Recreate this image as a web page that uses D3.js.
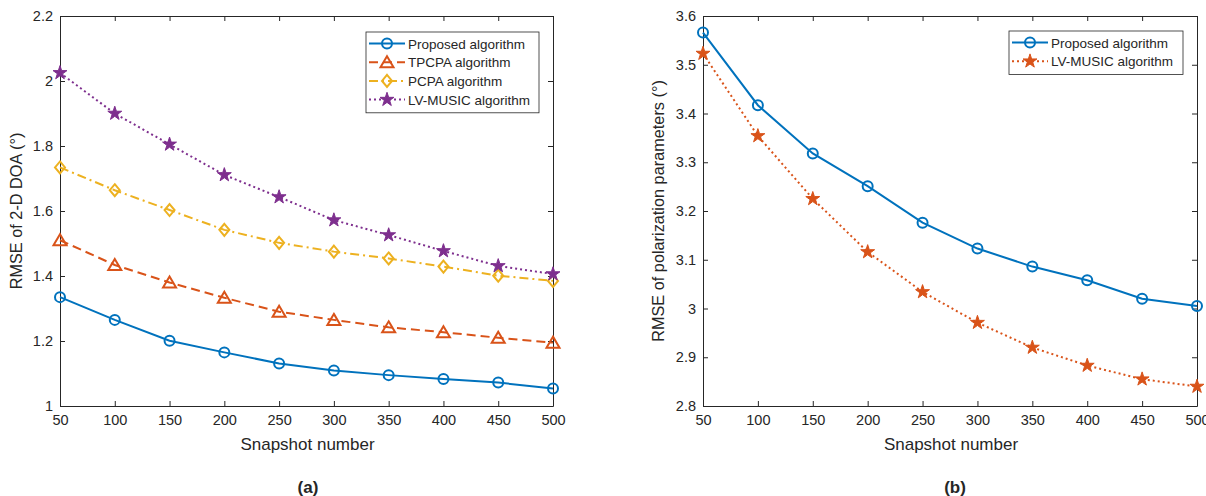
<!DOCTYPE html>
<html>
<head>
<meta charset="utf-8">
<script src="https://cdn.jsdelivr.net/npm/d3@7"></script>
<style>
  body { margin: 0; background: #fff; }
  svg text { font-family: "Liberation Sans", Arial, sans-serif; fill: #262626; }
</style>
</head>
<body>
<script>
// snapshot numbers shared by both panels
const snapshots = [50, 100, 150, 200, 250, 300, 350, 400, 450, 500];

// panel (a): RMSE of 2-D DOA
const doaProposed = [1.335, 1.265, 1.201, 1.165, 1.131, 1.109, 1.095, 1.083, 1.072, 1.054];
const doaTPCPA    = [1.51, 1.434, 1.38, 1.333, 1.29, 1.265, 1.242, 1.227, 1.21, 1.195];
const doaPCPA     = [1.734, 1.664, 1.603, 1.542, 1.502, 1.475, 1.454, 1.429, 1.401, 1.385];
const doaLV       = [2.025, 1.90, 1.805, 1.711, 1.643, 1.572, 1.526, 1.477, 1.431, 1.406];
const doaTicks = [1, 1.2, 1.4, 1.6, 1.8, 2, 2.2];

// panel (b): RMSE of polarization parameters
const polProposed = [3.566, 3.417, 3.318, 3.251, 3.176, 3.123, 3.086, 3.058, 3.020, 3.005];
const polLV       = [3.523, 3.354, 3.225, 3.116, 3.034, 2.971, 2.92, 2.883, 2.855, 2.84];
const polTicks = [2.8, 2.9, 3, 3.1, 3.2, 3.3, 3.4, 3.5, 3.6];

const C = { blue: "#0072BD", orange: "#D95319", yellow: "#EDB120", purple: "#7E2F8E" };

const svg = d3.select("body").append("svg")
  .attr("width", 1206).attr("height", 496);

function marker(g, type, color, x, y) {
  if (type === "circle") {
    g.append("circle").attr("cx", x).attr("cy", y).attr("r", 5)
      .attr("fill", "none").attr("stroke", color).attr("stroke-width", 2);
  } else if (type === "triangle") {
    g.append("path").attr("transform", `translate(${x},${y})`)
      .attr("d", "M0,-6L6.5,5L-6.5,5Z")
      .attr("fill", "none").attr("stroke", color).attr("stroke-width", 2);
  } else if (type === "diamond") {
    g.append("path").attr("transform", `translate(${x},${y})`)
      .attr("d", "M0,-6L5,0L0,6L-5,0Z")
      .attr("fill", "none").attr("stroke", color).attr("stroke-width", 2);
  } else if (type === "star") {
    g.append("path").attr("transform", `translate(${x},${y})`)
      .attr("d", d3.symbol(d3.symbolStar, 60)())
      .attr("fill", color).attr("stroke", color).attr("stroke-width", 1);
  }
}

function panel(opt) {
  const x = d3.scaleLinear().domain([50, 500]).range([opt.left, opt.right]);
  const y = d3.scaleLinear().domain(opt.ydomain).range([406, 16]);
  const g = svg.append("g");

  // axes box with inward ticks
  g.append("g").attr("transform", "translate(0,406)")
    .call(d3.axisBottom(x).tickValues(snapshots).tickSizeInner(-5).tickSizeOuter(0).tickPadding(9))
    .call(a => a.selectAll("text").attr("font-size", 14.5));
  g.append("g").attr("transform", "translate(0,16)")
    .call(d3.axisTop(x).tickValues(snapshots).tickSizeInner(-5).tickSizeOuter(0).tickFormat(""));
  g.append("g").attr("transform", `translate(${opt.left},0)`)
    .call(d3.axisLeft(y).tickValues(opt.yticks).tickSizeInner(-5).tickSizeOuter(0).tickPadding(7)
      .tickFormat(d3.format("~g")))
    .call(a => a.selectAll("text").attr("font-size", 14.5));
  g.append("g").attr("transform", `translate(${opt.right},0)`)
    .call(d3.axisRight(y).tickValues(opt.yticks).tickSizeInner(-5).tickSizeOuter(0).tickFormat(""));
  g.selectAll(".domain, .tick line").attr("stroke", "#262626");

  // series
  opt.series.forEach(s => {
    const line = d3.line().x((d, i) => x(snapshots[i])).y(d => y(d));
    g.append("path").datum(s.values).attr("d", line)
      .attr("fill", "none").attr("stroke", s.color).attr("stroke-width", 2)
      .attr("stroke-dasharray", s.dash);
    s.values.forEach((v, i) => marker(g, s.marker, s.color, x(snapshots[i]), y(v)));
  });

  // labels
  g.append("text").attr("x", (opt.left + opt.right) / 2 + 1).attr("y", 450)
    .attr("text-anchor", "middle").attr("font-size", 17).text("Snapshot number");
  g.append("text").attr("transform", `translate(${opt.ylabelX},211) rotate(-90)`)
    .attr("text-anchor", "middle").attr("font-size", 16.3).text(opt.ylabel);
  g.append("text").attr("x", opt.tagX).attr("y", 493).attr("text-anchor", "middle")
    .attr("font-size", 17).attr("font-weight", "bold").text(opt.tag);

  // legend
  const L = opt.legend;
  g.append("rect").attr("x", L.x).attr("y", L.y).attr("width", L.w)
    .attr("height", opt.series.length * 18.7 + 6)
    .attr("fill", "#fff").attr("stroke", "#262626").attr("stroke-width", 0.8);
  opt.series.forEach((s, i) => {
    const ly = L.y + 11.5 + i * 18.7;
    g.append("line").attr("x1", L.x + 3).attr("x2", L.x + 39).attr("y1", ly).attr("y2", ly)
      .attr("stroke", s.color).attr("stroke-width", 2).attr("stroke-dasharray", s.dash);
    marker(g, s.marker, s.color, L.x + 21, ly);
    g.append("text").attr("x", L.x + 42).attr("y", ly + 5).attr("font-size", 13.5)
      .attr("fill", "#000").text(s.name);
  });
}

panel({
  left: 60, right: 553, ydomain: [1, 2.2], yticks: doaTicks,
  ylabel: "RMSE of 2-D DOA (°)", ylabelX: 22, tag: "(a)", tagX: 308,
  legend: { x: 366, y: 32, w: 173 },
  series: [
    { name: "Proposed algorithm", values: doaProposed, color: C.blue, marker: "circle", dash: null },
    { name: "TPCPA algorithm", values: doaTPCPA, color: C.orange, marker: "triangle", dash: "9,5" },
    { name: "PCPA algorithm", values: doaPCPA, color: C.yellow, marker: "diamond", dash: "9,4,2,4" },
    { name: "LV-MUSIC algorithm", values: doaLV, color: C.purple, marker: "star", dash: "2,3" }
  ]
});

panel({
  left: 703, right: 1197, ydomain: [2.8, 3.6], yticks: polTicks,
  ylabel: "RMSE of polarization parameters (°)", ylabelX: 664, tag: "(b)", tagX: 955,
  legend: { x: 1009, y: 31, w: 174 },
  series: [
    { name: "Proposed algorithm", values: polProposed, color: C.blue, marker: "circle", dash: null },
    { name: "LV-MUSIC algorithm", values: polLV, color: C.orange, marker: "star", dash: "2,3" }
  ]
});
</script>
</body>
</html>
